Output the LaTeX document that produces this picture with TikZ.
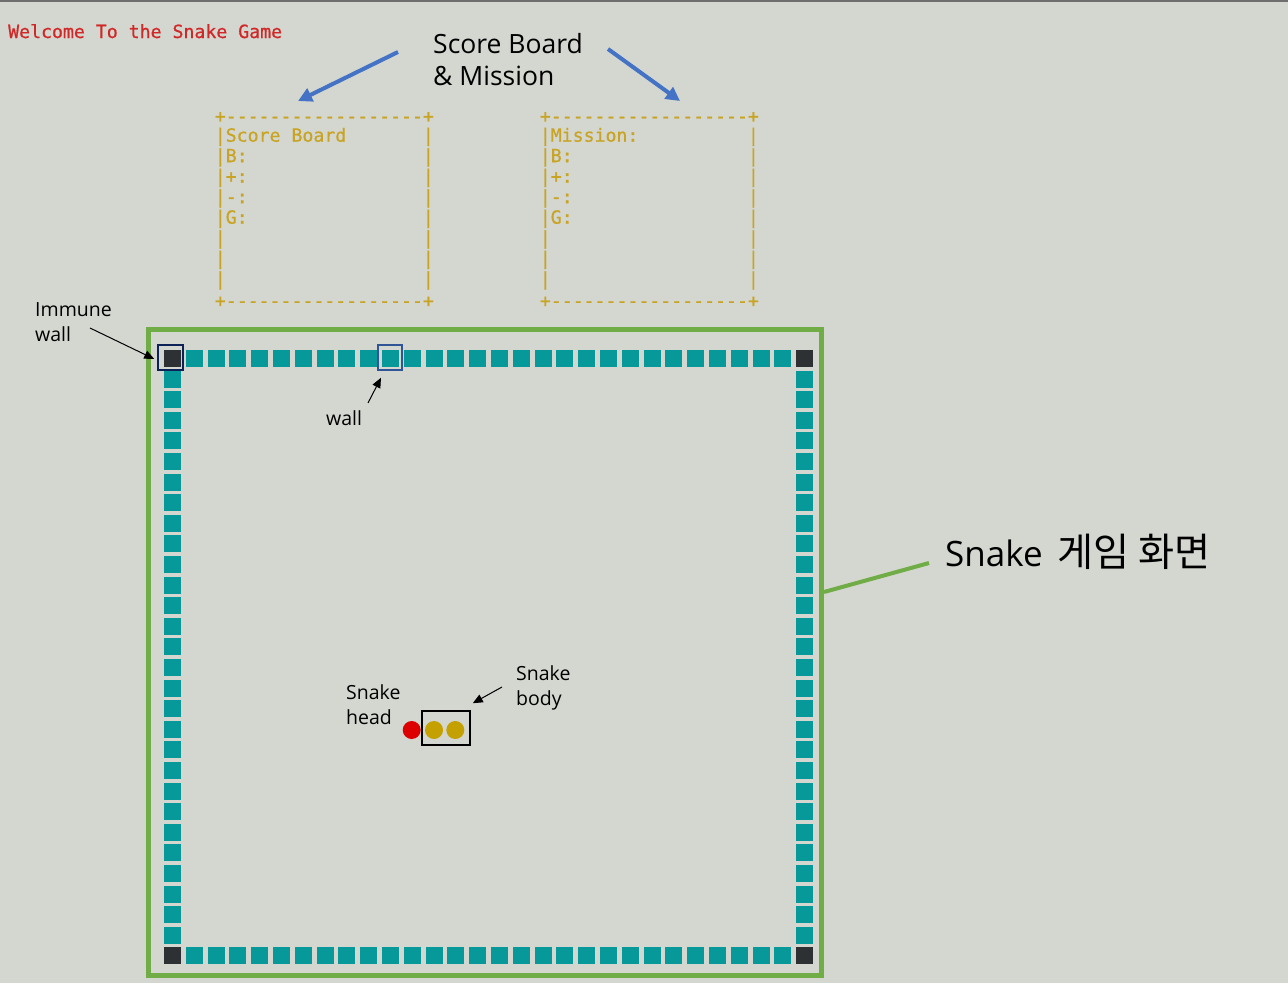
\documentclass[tikz,border=0pt]{standalone}
\usepackage{fontspec}
\setmainfont{Open Sans}
\setmonofont{DejaVu Sans Mono}[FakeBold=0.7]
\newfontfamily\krfont{Noto Sans CJK KR}[Scale=1.12]
\usetikzlibrary{arrows.meta}
\definecolor{bg}{HTML}{D4D7D0}
\definecolor{topline}{HTML}{6E6E6E}
\definecolor{teal}{HTML}{079999}
\definecolor{darksq}{HTML}{2D3134}
\definecolor{navy}{HTML}{0D2257}
\definecolor{wallblue}{HTML}{2F5597}
\definecolor{arrblue}{HTML}{4472C4}
\definecolor{scrgreen}{HTML}{70AD47}
\definecolor{headred}{HTML}{DD0000}
\definecolor{bodyyel}{HTML}{C4A000}
\definecolor{asciiyel}{HTML}{C9A424}
\definecolor{welred}{HTML}{D02828}
\tikzset{
  mono/.style={inner sep=0pt, anchor=base west, font=\fontsize{18.2}{20.5}\selectfont\ttfamily},
  ascii/.style={mono, text=asciiyel},
  lbl/.style={inner sep=0pt, anchor=base west, align=left, font=\fontsize{19.5}{24.5}\selectfont},
  bigl/.style={inner sep=0pt, anchor=base west, align=left, font=\fontsize{26.5}{32}\selectfont},
  sq/.style={fill=teal},
  dsq/.style={fill=darksq},
  hbox/.style={draw, line width=2pt, minimum size=24.5pt, inner sep=0pt},
  blackarr/.style={draw=black, line width=1pt, -{Triangle[length=10pt,width=8.5pt]}},
  bluearr/.style={draw=arrblue, line width=4pt, -{Triangle[length=14pt,width=14pt]}},
  dot/.style={circle, inner sep=0pt, minimum size=18pt},
}
\begin{document}
\begin{tikzpicture}[x=1pt,y=-1pt]
\useasboundingbox (0,0) rectangle (1288,983);
\fill[bg] (0,0) rectangle (1288,983);
\fill[topline] (0,0.2) rectangle (1288,1.8);

% welcome
\node[mono, text=welred] (welcome) at (8,38) {Welcome To the Snake Game};

% score board ascii box
\node[ascii] (sbtop) at (214.6,122.5) {+------------------+};
\node[ascii] (sbbot) at (214.6,307) {+------------------+};
\foreach \t [count=\k] in {{|Score Board},{|B:},{|+:},{|-:},{|G:},{|},{|},{|}} {
  \node[ascii] (sbl\k) at (214.6,{141.7+20.5*(\k-1)}) {\t};
  \node[ascii] (sbr\k) at (422.65,{141.7+20.5*(\k-1)}) {|};
}
% mission ascii box
\node[ascii] (mstop) at (539.6,122.5) {+------------------+};
\node[ascii] (msbot) at (539.6,307) {+------------------+};
\foreach \t [count=\k] in {{|Mission:},{|B:},{|+:},{|-:},{|G:},{|},{|},{|}} {
  \node[ascii] (msl\k) at (539.6,{141.7+20.5*(\k-1)}) {\t};
  \node[ascii] (msr\k) at (747.65,{141.7+20.5*(\k-1)}) {|};
}

% score board & mission label with arrows
\node[bigl] (sbm) at (433,85) {Score Board\\\& Mission};
\coordinate (sbtail) at (398,52);
\coordinate (sbtip) at (298,101);
\coordinate (mstail) at (608,49);
\coordinate (mstip) at (680,101);
\draw[bluearr] (sbtail) -- (sbtip);
\draw[bluearr] (mstail) -- (mstip);

% game screen frame
\node[draw=scrgreen, line width=5pt, minimum width=673pt, minimum height=646pt, inner sep=0pt] (screen) at (485,652) {};

% walls
\foreach \i in {1,...,28} {
  \fill[sq] ({164+21.8*\i},350) rectangle ++(17,17);
  \fill[sq] ({164+21.8*\i},947.4) rectangle ++(17,17);
  \fill[sq] (164,{350+20.6*\i}) rectangle ++(17,17);
  \fill[sq] (796.2,{350+20.6*\i}) rectangle ++(17,17);
}
\fill[dsq] (164,350) rectangle ++(17,17);
\fill[dsq] (796.2,350) rectangle ++(17,17);
\fill[dsq] (164,947.4) rectangle ++(17,17);
\fill[dsq] (796.2,947.4) rectangle ++(17,17);

% highlight boxes
\node[hbox, draw=navy] (immune) at (170.5,357.5) {};
\node[hbox, draw=wallblue] (wallbox) at (390,357.5) {};

% labels
\node[lbl] (immlbl) at (35,341) {Immune\\wall};
\coordinate (imtail) at (90,328);
\draw[blackarr] (imtail) -- ([xshift=-3pt,yshift=-1.5pt]immune.west);

\node[lbl] (walllbl) at (326,425) {wall};
\coordinate (wltail) at (368,403);
\draw[blackarr] (wltail) -- ([xshift=-9pt,yshift=-7pt]wallbox.south);

% snake
\node[dot, fill=headred] (head) at (411.7,730) {};
\node[dot, fill=bodyyel] (body1) at (434,730) {};
\node[dot, fill=bodyyel] (body2) at (455.3,730) {};
\node[draw=black, line width=1.5pt, minimum width=48pt, minimum height=34pt, inner sep=0pt] (bodybox) at (446,728) {};

\node[lbl] (headlbl) at (346,724) {Snake\\head};
\node[lbl] (bodylbl) at (516,705) {Snake\\body};
\coordinate (bdtail) at (502,687);
\draw[blackarr] (bdtail) -- ([xshift=2pt,yshift=7pt]bodybox.north east);

% screen label
\node[inner sep=0pt, anchor=base west, font=\fontsize{35}{40}\selectfont] (scrlbl) at (945,566) {Snake\hspace{6pt} {\krfont 게임 화면}};
\coordinate (gltail) at (929,563);
\draw[draw=scrgreen, line width=4pt] ([yshift=60pt]screen.east) -- (gltail);
\end{tikzpicture}
\end{document}
